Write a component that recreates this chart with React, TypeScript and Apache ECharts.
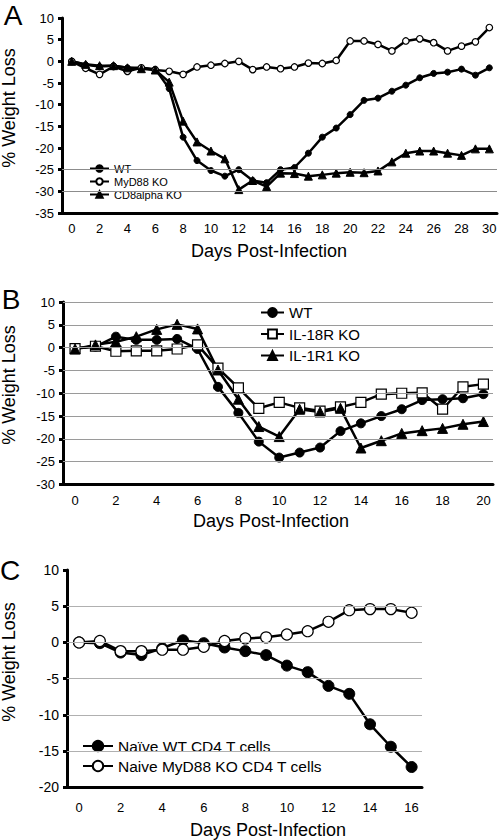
import React, { useEffect, useRef } from "react";
import * as echarts from "echarts";

const FONT = '"Liberation Sans", Arial, Helvetica, sans-serif';

// Panel A
const daysA = [0, 1, 2, 3, 4, 5, 6, 7, 8, 9, 10, 11, 12, 13, 14, 15, 16, 17, 18, 19, 20, 21, 22, 23, 24, 25, 26, 27, 28, 29, 30];
const wtA = [0, -0.8, -1.2, -1.0, -1.5, -1.5, -1.8, -6.3, -17.5, -22.9, -25.2, -26.5, -25.0, -27.5, -28.0, -25.0, -24.5, -21.2, -17.5, -15.4, -12.3, -9.0, -8.5, -6.9, -5.5, -3.8, -2.8, -2.5, -1.8, -3.2, -1.5];
const myd88A = [0, -1.6, -3.0, -1.2, -2.3, -1.5, -2.0, -2.3, -3.0, -1.3, -0.9, -0.5, 0, -1.9, -1.3, -1.7, -1.3, -0.4, -0.5, 0.2, 4.7, 4.7, 3.9, 2.4, 4.7, 5.2, 4.3, 2.4, 3.5, 4.5, 7.8];
const cd8A = [0, -0.7, -1.0, -1.0, -1.5, -1.7, -2.0, -4.8, -13.8, -18.6, -20.7, -22.5, -29.6, -27.5, -28.9, -25.8, -25.9, -26.5, -26.2, -25.8, -25.6, -25.7, -25.3, -23.2, -21.2, -20.7, -20.7, -21.2, -21.7, -20.2, -20.2];
const xTicksA = [0, 2, 4, 6, 8, 10, 12, 14, 16, 18, 20, 22, 24, 26, 28, 30];
const gridValsA = [-25, -30];

// Panel B
const daysB = [0, 1, 2, 3, 4, 5, 6, 7, 8, 9, 10, 11, 12, 13, 14, 15, 16, 17, 18, 19, 20];
const wtB = [-0.2, 0.2, 2.4, 1.7, 1.7, 1.9, -0.3, -8.6, -14.3, -20.6, -24.1, -23.0, -21.9, -18.3, -16.6, -15.0, -13.5, -11.5, -11.3, -11.1, -10.2];
const il18rB = [-0.2, 0.3, -0.8, -0.7, -0.7, -0.3, 0.6, -4.5, -8.8, -13.3, -12.0, -13.2, -13.9, -13.0, -12.0, -10.2, -10.0, -9.9, -13.5, -8.6, -8.0];
const il1r1B = [-0.3, 0.6, 1.3, 2.4, 4.0, 5.1, 4.1, -4.9, -11.3, -17.3, -19.5, -13.5, -14.1, -13.3, -22.0, -20.4, -18.8, -18.2, -17.7, -16.8, -16.2];
const xTicksB = [0, 2, 4, 6, 8, 10, 12, 14, 16, 18, 20];
const gridValsB = [10, 5, 0, -5, -10, -15, -20, -25];

// Panel C
const daysC = [0, 1, 2, 3, 4, 5, 6, 7, 8, 9, 10, 11, 12, 13, 14, 15, 16];
const wtC = [0, -0.1, -1.4, -1.75, -0.8, 0.3, -0.1, -0.7, -1.2, -1.75, -3.2, -4.1, -6.0, -7.1, -11.3, -14.4, -17.2];
const myd88C = [0, 0.2, -1.2, -1.2, -1.0, -1.0, -0.6, 0.2, 0.55, 0.7, 1.1, 1.55, 2.85, 4.45, 4.6, 4.6, 4.1];
const xTicksC = [0, 2, 4, 6, 8, 10, 12, 14, 16];
const gridValsC = [5, 0, -5, -10, -15];

const pairs = (xs: number[], ys: number[]) => xs.map((x, i) => [x, ys[i]]);

function xAxisDef(idx: number, min: number, max: number, ticks: number[], margin: number) {
  return {
    type: "value",
    gridIndex: idx,
    min,
    max,
    axisLine: { show: true, onZero: false, lineStyle: { color: "#000", width: 3 } },
    axisTick: { show: false },
    splitLine: { show: false },
    axisLabel: { customValues: ticks, fontSize: 13, color: "#000", fontFamily: FONT, margin },
  };
}

function yAxisDef(idx: number, min: number, max: number, fontSize: number) {
  return {
    type: "value",
    gridIndex: idx,
    min,
    max,
    interval: 5,
    axisLine: { show: true, onZero: false, lineStyle: { color: "#000", width: 3 } },
    axisTick: { show: true, length: 4, lineStyle: { color: "#000", width: 3 } },
    splitLine: { show: false },
    axisLabel: { fontSize, color: "#000", fontFamily: FONT, margin: 8 },
  };
}

function lineSeries(name: string, idx: number, xs: number[], ys: number[], symbol: string, size: number, filled: boolean, width: number) {
  return {
    type: "line",
    name,
    xAxisIndex: idx,
    yAxisIndex: idx,
    data: pairs(xs, ys),
    symbol,
    symbolSize: size,
    showAllSymbol: true,
    z: 3,
    lineStyle: { color: "#000", width },
    itemStyle: filled
      ? { color: "#000", borderColor: "#000", borderWidth: 1 }
      : { color: "#fff", borderColor: "#000", borderWidth: 1.2 },
    emphasis: { disabled: true },
  };
}

function gridSeries(idx: number, vals: number[], color: string) {
  return {
    type: "line",
    name: "grid" + idx,
    xAxisIndex: idx,
    yAxisIndex: idx,
    data: [],
    z: 1,
    silent: true,
    markLine: {
      silent: true,
      symbol: "none",
      label: { show: false },
      lineStyle: { color, width: 1, type: "solid" },
      data: vals.map((v) => ({ yAxis: v })),
    },
  };
}

export default function App() {
  const ref = useRef<HTMLDivElement>(null);
  useEffect(() => {
    if (!ref.current) return;
    const chart = echarts.init(ref.current, null, { renderer: "svg" });
    const titleStyle = { fill: "#000", fontSize: 18, fontFamily: FONT, textAlign: "center", textVerticalAlign: "middle" };
    const letterStyle = { fill: "#000", fontSize: 28, fontFamily: FONT, textAlign: "center", textVerticalAlign: "middle" };
    chart.setOption({
      animation: false,
      backgroundColor: "#fff",
      grid: [
        { left: 62, top: 18, width: 435, height: 195 },
        { left: 63, top: 302, width: 430, height: 182.5 },
        { left: 67, top: 570, width: 355, height: 217.3 },
      ],
      xAxis: [
        xAxisDef(0, -0.7, 30.55, xTicksA, 9),
        xAxisDef(1, -0.59, 20.47, xTicksB, 9),
        xAxisDef(2, -0.58, 16.5, xTicksC, 14),
      ],
      yAxis: [yAxisDef(0, -35, 10, 13), yAxisDef(1, -30, 10, 13), yAxisDef(2, -20, 10, 14)],
      legend: [
        {
          data: ["WT", "MyD88 KO", "CD8alpha KO"],
          orient: "vertical",
          left: 64,
          top: 160,
          padding: [3, 4, 3, 25],
          itemGap: 2,
          itemWidth: 19,
          itemHeight: 8,
          backgroundColor: "#fff",
          selectedMode: false,
          textStyle: { fontSize: 11, color: "#000", fontFamily: FONT },
        },
        {
          data: ["WT", "IL-18R KO", "IL-1R1 KO"],
          orient: "vertical",
          left: 257,
          top: 296,
          padding: [9, 23, 3, 3],
          itemGap: 6.5,
          itemWidth: 23,
          itemHeight: 11,
          backgroundColor: "#fff",
          selectedMode: false,
          textStyle: { fontSize: 15, color: "#000", fontFamily: FONT },
        },
        {
          data: ["Naïve WT CD4 T cells", "Naive MyD88 KO CD4 T cells"],
          orient: "vertical",
          left: 69,
          top: 734,
          padding: [4, 19, 4, 13],
          itemGap: 4,
          itemWidth: 30,
          itemHeight: 13,
          backgroundColor: "#fff",
          selectedMode: false,
          textStyle: { fontSize: 15.5, color: "#000", fontFamily: FONT },
        },
      ],
      series: [
        gridSeries(0, gridValsA, "#8c8c8c"),
        gridSeries(1, gridValsB, "#9a9a9a"),
        gridSeries(2, gridValsC, "#b0b0b0"),
        lineSeries("WT", 0, daysA, wtA, "circle", 6, true, 2.5),
        lineSeries("MyD88 KO", 0, daysA, myd88A, "circle", 6.5, false, 2.5),
        lineSeries("CD8alpha KO", 0, daysA, cd8A, "triangle", 8, true, 2.5),
        lineSeries("WT", 1, daysB, wtB, "circle", 9, true, 2.5),
        lineSeries("IL-18R KO", 1, daysB, il18rB, "rect", 10, false, 2.5),
        lineSeries("IL-1R1 KO", 1, daysB, il1r1B, "triangle", 10, true, 2.5),
        lineSeries("Naïve WT CD4 T cells", 2, daysC, wtC, "circle", 11, true, 2.5),
        lineSeries("Naive MyD88 KO CD4 T cells", 2, daysC, myd88C, "circle", 11, false, 2.5),
      ],
      graphic: [
        { type: "text", x: 13, y: 15, style: { ...letterStyle, text: "A" } },
        { type: "text", x: 11, y: 299, style: { ...letterStyle, text: "B" } },
        { type: "text", x: 10, y: 570, style: { ...letterStyle, text: "C" } },
        { type: "text", x: 9, y: 108, rotation: Math.PI / 2, style: { ...titleStyle, text: "% Weight Loss" } },
        { type: "text", x: 9, y: 385, rotation: Math.PI / 2, style: { ...titleStyle, text: "% Weight Loss" } },
        { type: "text", x: 9, y: 662, rotation: Math.PI / 2, style: { ...titleStyle, text: "% Weight Loss" } },
        { type: "text", x: 269, y: 251, style: { ...titleStyle, text: "Days Post-Infection" } },
        { type: "text", x: 271, y: 521, style: { ...titleStyle, text: "Days Post-Infection" } },
        { type: "text", x: 268, y: 830, style: { ...titleStyle, text: "Days Post-Infection" } },
      ],
    });
    return () => chart.dispose();
  }, []);
  return <div ref={ref} style={{ width: 500, height: 840, position: "fixed", left: 0, top: 0 }} />;
}
